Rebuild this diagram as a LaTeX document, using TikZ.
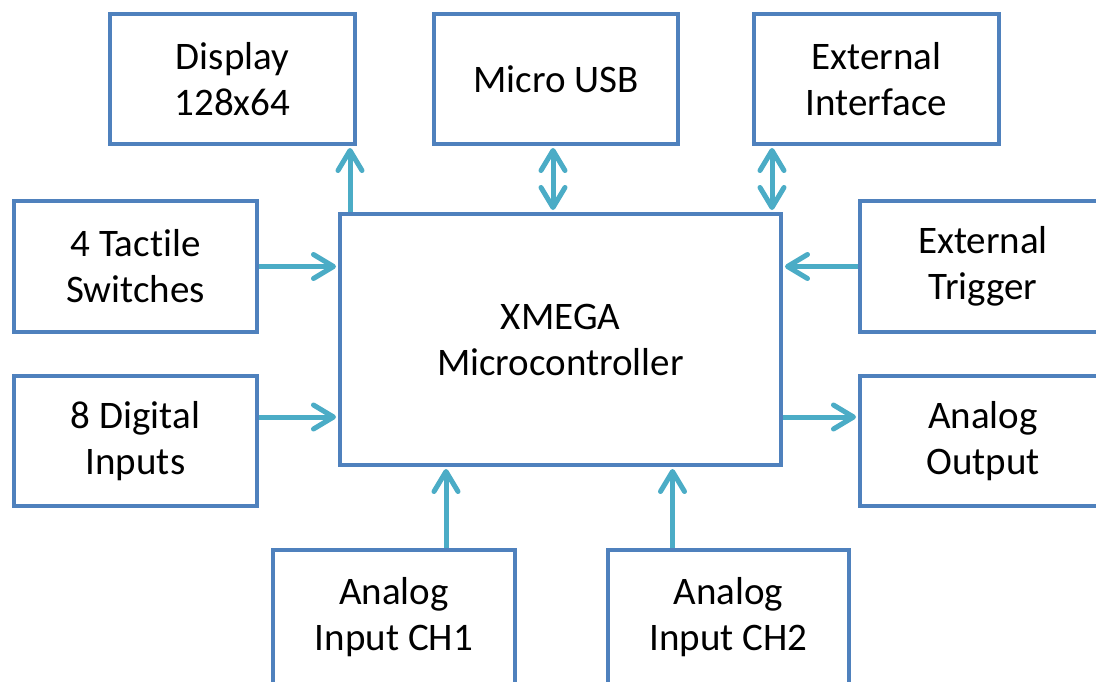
\documentclass[tikz,border=0pt]{standalone}
\usepackage{fontspec}
\setmainfont[Ligatures={NoCommon}]{Carlito}
\usetikzlibrary{arrows.meta}
\definecolor{boxblue}{HTML}{4F81BD}
\definecolor{arrcol}{HTML}{4BACC6}
\begin{document}
\begin{tikzpicture}[x=1pt,y=-1pt,
  box/.style={draw=boxblue, line width=4pt, fill=white, align=center,
    font=\fontsize{39}{46}\selectfont, inner sep=0pt},
  tipA/.tip={Straight Barb[length=20pt,width=24pt,round]},
  arr/.style={draw=arrcol, line width=5pt, -tipA, shorten >=2pt},
  darr/.style={draw=arrcol, line width=5pt, tipA-tipA, shorten >=2pt, shorten <=2pt}]
\path[use as bounding box, fill=white] (0,0) rectangle (1096,681);
\clip (0,0) rectangle (1096,681);
% boxes
\node[box, minimum width=245pt, minimum height=130pt] (disp) at (232.5,79) {Display\\128x64};
\node[box, minimum width=244pt, minimum height=130pt] (usb) at (556,79) {Micro USB};
\node[box, minimum width=245pt, minimum height=130pt] (ext) at (876.5,79) {External\\Interface};
\node[box, minimum width=243pt, minimum height=131pt] (tact) at (135.5,266.5) {4 Tactile\\Switches};
\node[box, minimum width=243pt, minimum height=130pt] (dig) at (135.5,441) {8 Digital\\Inputs};
\node[box, minimum width=441pt, minimum height=251pt] (mcu) at (560.5,339.5) {XMEGA\\Microcontroller};
\node[box, minimum width=246pt, minimum height=131pt] (trig) at (983,266.5) {External\\Trigger};
\node[box, minimum width=246pt, minimum height=130pt] (aout) at (983,441) {Analog\\Output};
\node[box, minimum width=242pt, minimum height=134pt] (ch1) at (394,617) {Analog\\Input CH1};
\node[box, minimum width=241pt, minimum height=134pt] (ch2) at (728.5,617) {Analog\\Input CH2};
% connectors
\draw[arr] ([xshift=12pt]mcu.north west) -- ([xshift=12pt]mcu.north west |- disp.south);
\draw[darr] ([xshift=-3pt]usb.south |- mcu.north) -- ([xshift=-3pt]usb.south);
\draw[darr] ([xshift=-11pt]mcu.north east) -- ([xshift=-11pt]mcu.north east |- ext.south);
\draw[arr] (tact.east) -- (tact.east -| mcu.west);
\draw[arr] ([yshift=24pt]dig.east) -- ([yshift=24pt]dig.east -| mcu.west);
\draw[arr] (trig.west) -- (trig.west -| mcu.east);
\draw[arr] ([yshift=24pt]aout.west -| mcu.east) -- ([yshift=24pt]aout.west);
\draw[arr] ([xshift=52pt]ch1.north) -- ([xshift=52pt]ch1.north |- mcu.south);
\draw[arr] ([xshift=-56pt]ch2.north) -- ([xshift=-56pt]ch2.north |- mcu.south);
\end{tikzpicture}
\end{document}
